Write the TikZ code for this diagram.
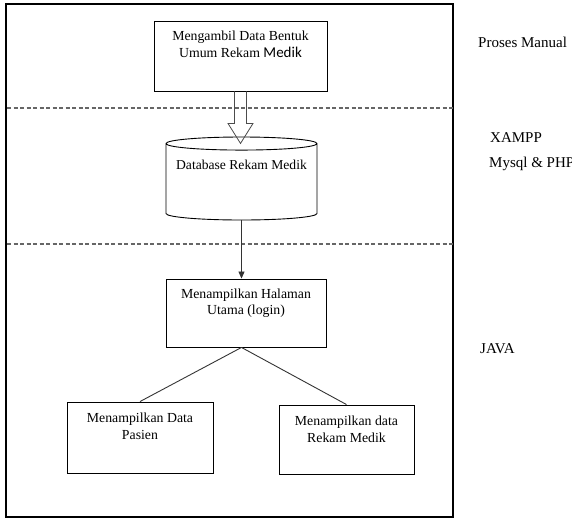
\documentclass[tikz,border=0pt]{standalone}
\usepackage{fontspec}
\setmainfont{Liberation Serif}
\newfontfamily\sansmedik{Carlito}
\usetikzlibrary{arrows.meta, shapes.geometric, positioning}

\begin{document}
\begin{tikzpicture}[
    x=1pt, y=-1pt, % work in pixels, y pointing down
    >={Triangle[width=6pt, length=7pt]}, % Default arrow tip
    box/.style={draw, line width=0.9pt, inner sep=0pt}, % Style for process boxes
    boxtext/.style={align=center, inner sep=0pt, font=\fontsize{13.8}{16.5}\selectfont}, % Text inside the boxes
    dbase/.style={draw, cylinder, shape border rotate=90, aspect=0.1, line width=0.9pt, inner sep=0pt, font=\fontsize{13.6}{16}\selectfont}, % Style for the database
    divider/.style={black!60, line width=1.1pt, dash pattern=on 4pt off 2.5pt}, % Style for layer separators
    layer/.style={anchor=base west, inner sep=0pt, font=\fontsize{15}{18}\selectfont}, % Style for the labels on the right
    link/.style={black!80, line width=0.9pt}, % Style for connectors
    hollow/.style={black!70, line width=0.8pt} % Style for the open arrow
]
    \useasboundingbox (0,0) rectangle (572,518);

    % --- Frame and layer separators ---
    \draw[line width=1.2pt] (6,4) rectangle (453,517);
    \draw[divider] (7,108) -- (455,108);
    \draw[divider] (7,244) -- (455,244);

    % --- Manual process ---
    \node[box, minimum width=173pt, minimum height=70pt] (ambil) at (240.5,56) {};
    \node[boxtext, below=10.5pt of ambil.north] (ambil-text) {Mengambil Data Bentuk\\Umum Rekam {\sansmedik\fontsize{15}{16}\selectfont Medik}};

    % --- Database ---
    \node[dbase, minimum width=151pt, minimum height=83pt, text height=9pt, text depth=33pt] (db) at (241.5,182) {Database Rekam Medik};

    % Open arrow from the manual process into the database
    \draw[hollow] ([xshift=-6pt]ambil.south) -- ++(0,32) -- ++(-6.5,0) -- ++(12.5,20) -- ++(12.5,-20) -- ++(-6.5,0) -- ++(0,-32);

    % --- Java application ---
    \node[box, minimum width=160pt, minimum height=68pt] (utama) at (246,313) {};
    \node[boxtext, below=10pt of utama.north] (utama-text) {Menampilkan Halaman\\Utama (login)};

    \node[box, minimum width=146pt, minimum height=71pt] (pasien) at (140,437.5) {};
    \node[boxtext, below=11.5pt of pasien.north] (pasien-text) {Menampilkan Data\\Pasien};

    \node[box, minimum width=135pt, minimum height=69pt] (rekam) at (346.5,439.5) {};
    \node[boxtext, below=11.5pt of rekam.north] (rekam-text) {Menampilkan data\\Rekam Medik};

    % Connectors
    \draw[->, link] (db.south) -- (db.south |- utama.north);
    \coordinate (cabang) at (db.south |- utama.south);
    \draw[link] (cabang) -- (pasien.north);
    \draw[link] (cabang) -- (rekam.north);

    % --- Labels on the right ---
    \node[layer] (manual) at (478,48) {Proses Manual};
    \node[layer] (xampp) at (490,143) {XAMPP};
    \node[layer] (mysql) at (489,168) {Mysql \& PHP};
    \node[layer] (java) at (480,353) {JAVA};

\end{tikzpicture}
\end{document}
